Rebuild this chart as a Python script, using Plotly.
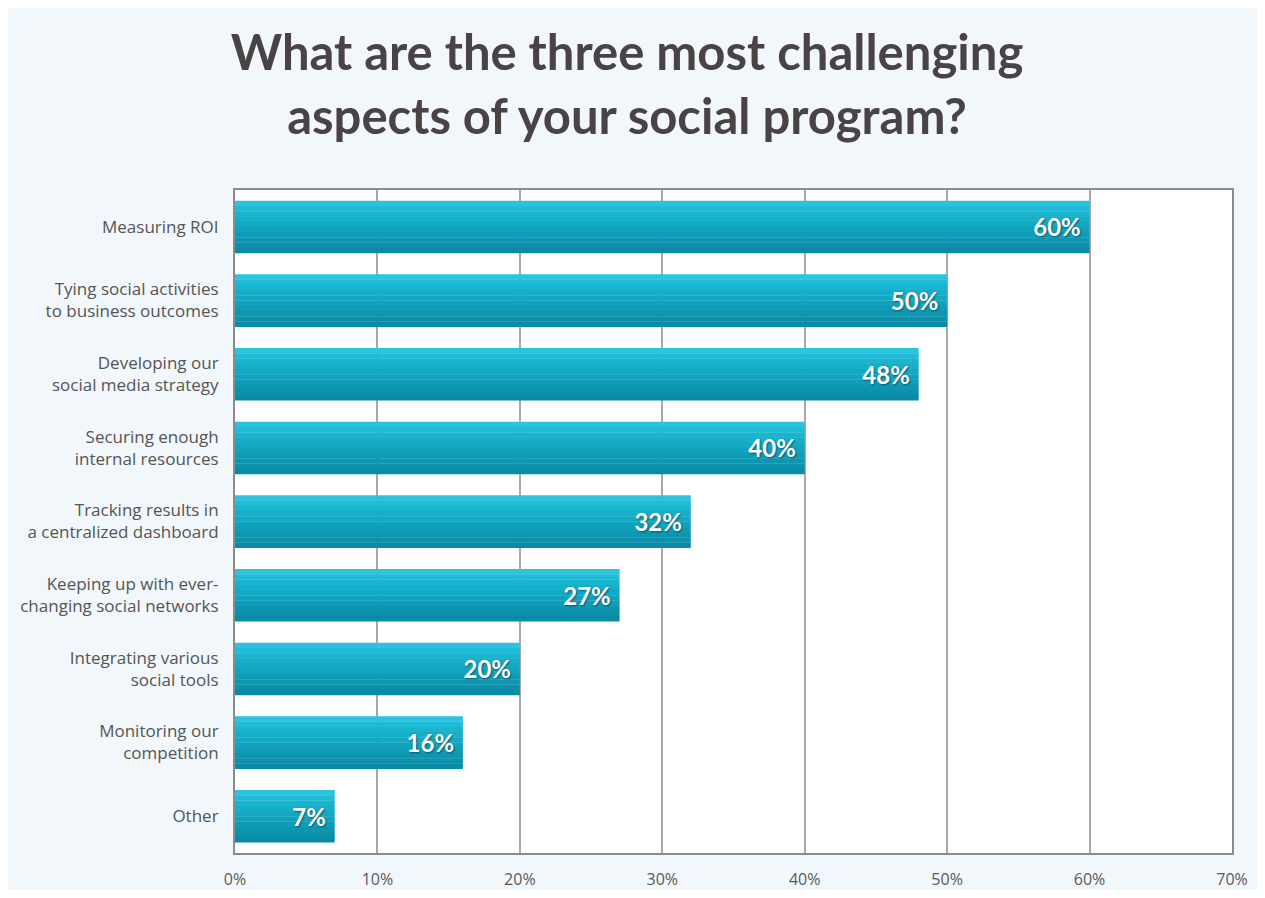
import plotly.graph_objects as go

categories = [
    "Measuring ROI",
    "Tying social activities<br>to business outcomes",
    "Developing our<br>social media strategy",
    "Securing enough<br>internal resources",
    "Tracking results in<br>a centralized dashboard",
    "Keeping up with ever-<br>changing social networks",
    "Integrating various<br>social tools",
    "Monitoring our<br>competition",
    "Other",
]
values = [60, 50, 48, 40, 32, 27, 20, 16, 7]
value_labels = ["60%", "50%", "48%", "40%", "32%", "27%", "20%", "16%", "7%"]
x_ticks = [0, 10, 20, 30, 40, 50, 60, 70]
x_tick_labels = ["0%", "10%", "20%", "30%", "40%", "50%", "60%", "70%"]

TITLE_FONT = "Lato, Liberation Sans, sans-serif"
VALUE_FONT = "Lato, Liberation Sans, sans-serif"
LABEL_FONT = "Open Sans, Liberation Sans, sans-serif"

W, H = 1249, 882

fig = go.Figure()

# gradient imitation: thin stacked stripes (top light -> bottom dark)
bar_w = 0.71
stripes = ["#2cc3dc", "#20bbd6", "#1ab4cf", "#16aec9", "#13a8c3",
           "#11a2bd", "#0f9cb7", "#0d96b1", "#0c91ab", "#0a8ba5"]
n = len(stripes)
sw = bar_w / n
for i, col in enumerate(stripes):
    off = -bar_w / 2 + i * sw
    fig.add_trace(go.Bar(
        y=categories, x=values, orientation="h",
        marker=dict(color=col, line=dict(width=0)),
        width=sw + 0.004, offset=off,
        hoverinfo="skip", showlegend=False,
    ))

fig.add_trace(go.Bar(
    y=categories, x=values, orientation="h",
    marker=dict(color="rgba(0,0,0,0)", line=dict(width=0)),
    width=bar_w, offset=-bar_w / 2,
    text=value_labels, texttemplate="%{text}\u00a0",
    textposition="inside", insidetextanchor="end",
    textfont=dict(family=VALUE_FONT, size=24, color="white", weight="bold",
                  shadow="1px 1px 2px rgba(0,0,0,0.45)"),
    showlegend=False,
))

fig.update_layout(
    barmode="overlay",
    width=W, height=H,
    paper_bgcolor="#f2f7fb",
    plot_bgcolor="#ffffff",
    margin=dict(l=227, r=25, t=182, b=37),
    title=dict(
        text="What are the three most challenging<br>aspects of your social program?",
        x=619 / W, xanchor="center", xref="container",
        y=1 - 62 / H, yanchor="top", yref="container",
        font=dict(family=TITLE_FONT, size=49, color="#4a4345", weight="bold"),
    ),
    font=dict(family=LABEL_FONT),
    uniformtext=dict(mode=False),
)

fig.update_xaxes(
    range=[0, 70], tickvals=x_ticks, ticktext=x_tick_labels,
    showgrid=True, gridcolor="#a8a8a8", gridwidth=1.5,
    showline=True, linecolor="#8c8c8c", linewidth=2, mirror=True,
    tickfont=dict(family=LABEL_FONT, size=16, color="#5a5a5a"),
    ticks="", ticklabelstandoff=11, zeroline=False, automargin=False,
)
fig.update_yaxes(
    autorange="reversed", categoryorder="array", categoryarray=categories,
    showgrid=False,
    showline=True, linecolor="#8c8c8c", linewidth=2, mirror=True,
    tickfont=dict(family=LABEL_FONT, size=17, color="#555555"),
    ticks="", ticklabelstandoff=11, automargin=False,
)

fig.write_html("out.html")
